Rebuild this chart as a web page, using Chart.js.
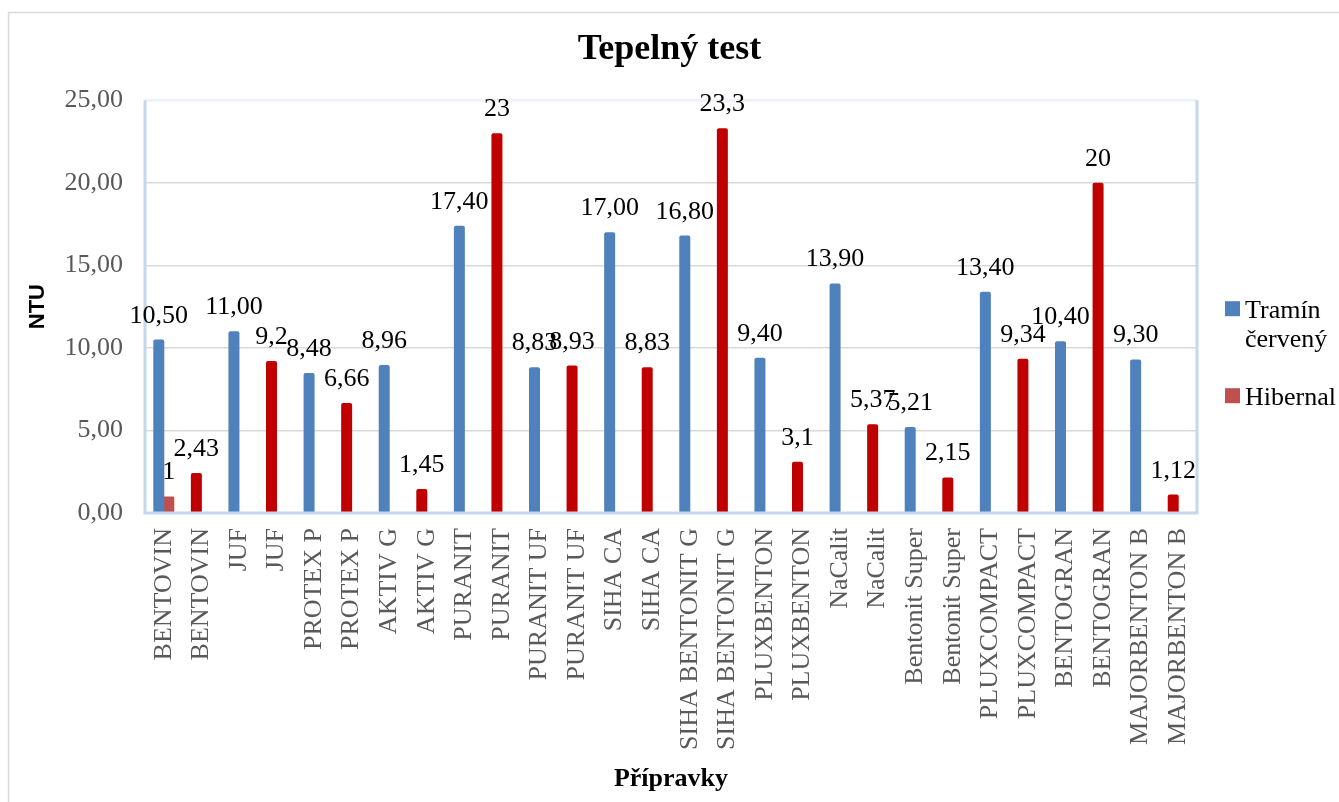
<!DOCTYPE html>
<html>
<head>
<meta charset="utf-8">
<script src="https://cdn.jsdelivr.net/npm/chart.js@4.4.0/dist/chart.umd.min.js"></script>
<style>
html,body{margin:0;padding:0;background:#ffffff;}
#wrap{width:1339px;height:802px;position:relative;}
</style>
</head>
<body>
<div id="wrap"><canvas id="c" width="1339" height="802"></canvas></div>
<script>
// ---- data ----
const categories = ['BENTOVIN','BENTOVIN','JUF','JUF','PROTEX P','PROTEX P','AKTIV G','AKTIV G','PURANIT','PURANIT','PURANIT UF','PURANIT UF','SIHA CA','SIHA CA','SIHA BENTONIT G','SIHA BENTONIT G','PLUXBENTON','PLUXBENTON','NaCalit','NaCalit','Bentonit Super','Bentonit Super','PLUXCOMPACT','PLUXCOMPACT','BENTOGRAN','BENTOGRAN','MAJORBENTON B','MAJORBENTON B'];
const traminValues = [10.50, 11.00, 8.48, 8.96, 17.40, 8.83, 17.00, 16.80, 9.40, 13.90, 5.21, 13.40, 10.40, 9.30];
const hibernalValues = [2.43, 9.2, 6.66, 1.45, 23, 8.93, 8.83, 23.3, 3.1, 5.37, 2.15, 9.34, 20, 1.12];
const hibernalSeriesValues = [1];
const yTickValues = [0, 5, 10, 15, 20, 25];

const BLUE = '#4F81BD', RED = '#C00000', HIB = '#C0504D';
const comma = s => String(s).replace('.', ',');

// first series holds all paired values (blue = Tramín, dark red = Hibernal points)
const seriesA = [], colorsA = [], labelsA = [];
traminValues.forEach((v, i) => {
  seriesA.push(v); colorsA.push(BLUE); labelsA.push(comma(v.toFixed(2)));
  const h = hibernalValues[i];
  seriesA.push(h); colorsA.push(RED); labelsA.push(comma(h));
});
const seriesB = categories.map((_, i) => i < hibernalSeriesValues.length ? hibernalSeriesValues[i] : null);
const labelsB = seriesB.map(v => v == null ? '' : comma(v));

const SERIF = '"Liberation Serif", "Times New Roman", serif';

const framePlugin = {
  id: 'frame',
  beforeDraw(chart) {
    const ctx = chart.ctx;
    ctx.save();
    ctx.strokeStyle = '#D9D9D9';
    ctx.lineWidth = 1.5;
    ctx.strokeRect(8.5, 12.5, 1400, 900);
    ctx.restore();
  },
  afterDatasetsDraw(chart) {
    const ctx = chart.ctx, a = chart.chartArea;
    ctx.save();
    ctx.lineWidth = 3;
    ctx.strokeStyle = '#EEF3FA';
    ctx.beginPath(); ctx.moveTo(a.left, a.top); ctx.lineTo(a.right, a.top); ctx.stroke();
    ctx.strokeStyle = '#C6D6EB';
    ctx.beginPath(); ctx.moveTo(a.left, a.top); ctx.lineTo(a.left, a.bottom); ctx.lineTo(a.right, a.bottom); ctx.lineTo(a.right, a.top); ctx.stroke();
    // data labels
    ctx.font = '26px ' + SERIF;
    ctx.fillStyle = '#000000';
    ctx.textAlign = 'center';
    ctx.textBaseline = 'alphabetic';
    chart.data.datasets.forEach((ds, di) => {
      const meta = chart.getDatasetMeta(di);
      meta.data.forEach((bar, i) => {
        if (ds.data[i] == null) return;
        ctx.fillText(ds.valueLabels[i], bar.x, bar.y - 17);
      });
    });
    // legend
    const lx = a.right + 28, tx = a.right + 48;
    let base = a.top + 218;
    ctx.textAlign = 'left';
    chart.data.datasets.forEach((ds) => {
      const words = ds.label.split(' ');
      const lines = [];
      let cur = '';
      words.forEach(w => {
        const t = cur ? cur + ' ' + w : w;
        if (cur && ctx.measureText(t).width > 100) { lines.push(cur); cur = w; } else cur = t;
      });
      lines.push(cur);
      ctx.fillStyle = ds.legendColor;
      ctx.fillRect(lx, base - 17, 15, 15);
      ctx.fillStyle = '#000000';
      lines.forEach((ln, k) => ctx.fillText(ln, tx, base + k * 29));
      base += lines.length * 29 + 29;
    });
    ctx.restore();
  }
};

new Chart(document.getElementById('c'), {
  type: 'bar',
  data: {
    labels: categories,
    datasets: [
      { label: 'Tramín červený', data: seriesA, backgroundColor: colorsA, legendColor: BLUE, valueLabels: labelsA,
        categoryPercentage: 0.532, barPercentage: 1.1, borderRadius: 2, borderSkipped: 'bottom' },
      { label: 'Hibernal', data: seriesB, backgroundColor: HIB, legendColor: HIB, valueLabels: labelsB,
        categoryPercentage: 0.532, barPercentage: 1.1, borderRadius: 1, borderSkipped: 'bottom' }
    ]
  },
  options: {
    responsive: false,
    animation: false,
    layout: { padding: 0 },
    plugins: {
      legend: { display: false },
      tooltip: { enabled: false },
      title: {
        display: true, text: 'Tepelný test', color: '#000000',
        font: { family: SERIF, size: 36, weight: 'bold' },
        padding: { top: 28, bottom: 29 }
      }
    },
    scales: {
      x: {
        grid: { display: false, drawTicks: false },
        border: { display: false },
        ticks: { color: '#595959', font: { family: SERIF, size: 26 }, maxRotation: 90, minRotation: 90, autoSkip: false, padding: 15 },
        title: { display: true, text: 'Přípravky', color: '#000000', font: { family: SERIF, size: 26, weight: 'bold' }, padding: { top: 0, bottom: 7 } },
        afterFit: s => { s.height = 289; }
      },
      y: {
        min: 0, max: 25,
        afterBuildTicks: s => { s.ticks = yTickValues.map(v => ({ value: v })); },
        grid: { color: '#D9D9D9', lineWidth: 1.5, drawTicks: false },
        border: { display: false },
        ticks: { color: '#595959', font: { family: SERIF, size: 26 }, padding: 22,
          callback: v => comma(Number(v).toFixed(2)) },
        title: { display: true, text: 'NTU', color: '#000000', font: { family: '"Liberation Sans", Arial, sans-serif', size: 22, weight: 'bold' }, padding: { top: 25, bottom: 0 } },
        afterFit: s => { s.width = 145; }
      },
      yRight: {
        type: 'linear', position: 'right', display: true,
        grid: { display: false, drawTicks: false }, border: { display: false },
        ticks: { display: false },
        afterFit: s => { s.width = 142; }
      }
    }
  },
  plugins: [framePlugin]
});
</script>
</body>
</html>
